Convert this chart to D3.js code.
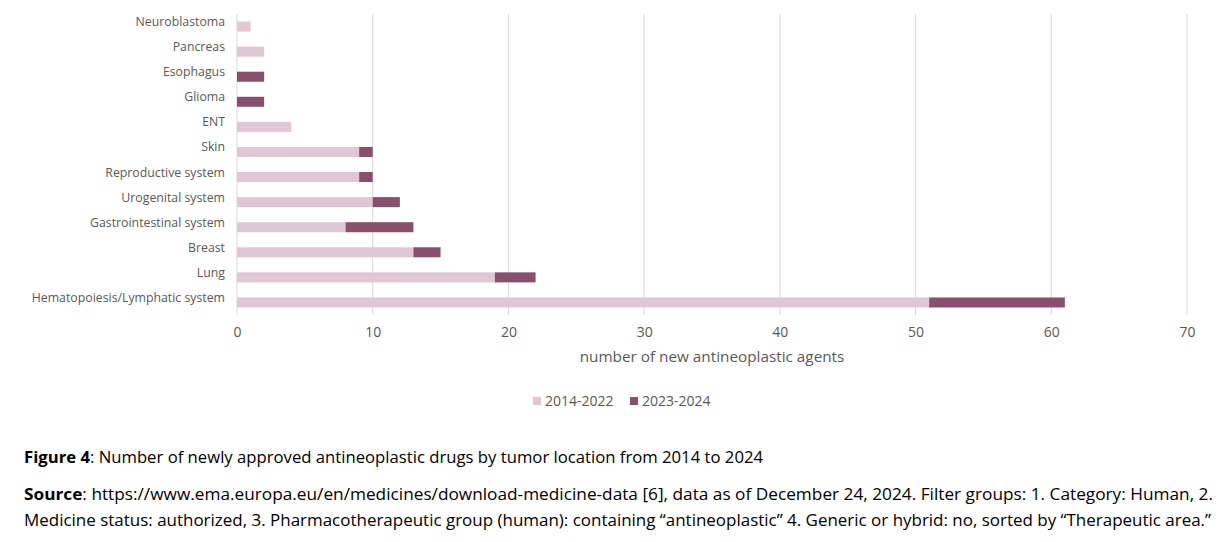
<!DOCTYPE html>
<html><head><meta charset="utf-8">
<script src="https://cdn.jsdelivr.net/npm/d3@7/dist/d3.min.js"></script>
<style>
body{margin:0;background:#fff;}
svg text{font-family:"Open Sans","Noto Sans",sans-serif;}
</style></head>
<body><svg id="c" width="1228" height="542"></svg>
<script>
const categories = ["Neuroblastoma","Pancreas","Esophagus","Glioma","ENT","Skin","Reproductive system","Urogenital system","Gastrointestinal system","Breast","Lung","Hematopoiesis/Lymphatic system"];
const series2014_2022 = [1,2,0,0,4,9,9,10,8,13,19,51];
const series2023_2024 = [0,0,2,2,0,1,1,2,5,2,3,10];
const seriesNames = ["2014-2022","2023-2024"];
const xTicks = [0,10,20,30,40,50,60,70];
const colors = ["#e1c6d4","#88506c"];

const svg = d3.select("#c");
const x = d3.scaleLinear().domain([0,70]).range([237,1187]);
const y = d3.scaleBand().domain(categories).range([14,315]).paddingInner(0.6).paddingOuter(0.3);

// gridlines
svg.append("g").selectAll("line").data(xTicks).join("line")
  .attr("x1",d=>x(d)).attr("x2",d=>x(d)).attr("y1",14).attr("y2",315)
  .attr("stroke","#d9d9d9").attr("stroke-width",1);

const stackData = categories.map((c,i)=>({cat:c, a:series2014_2022[i], b:series2023_2024[i]}));
const stack = d3.stack().keys(["a","b"])(stackData);
svg.append("g").selectAll("g").data(stack).join("g").attr("fill",(d,i)=>colors[i])
  .selectAll("rect").data(d=>d).join("rect")
  .attr("x",d=>x(d[0])).attr("width",d=>x(d[1])-x(d[0]))
  .attr("y",d=>y(d.data.cat)).attr("height",y.bandwidth());

// category labels
svg.append("g").selectAll("text").data(categories).join("text")
  .attr("x",225).attr("y",d=>y(d)+y.bandwidth()/2-0.5)
  .attr("text-anchor","end").attr("font-size",12.3).attr("fill","#595959").text(d=>d);

// x axis
const xAxis = d3.axisBottom(x).tickValues(xTicks).tickSize(0).tickPadding(0);
const ax = svg.append("g").attr("transform","translate(0,327)").call(xAxis);
ax.select(".domain").remove();
ax.selectAll("text").attr("font-size",14).attr("fill","#595959").attr("dy","0.71em")
  .style("font-family","'Open Sans','Noto Sans',sans-serif");

svg.append("text").attr("x",712).attr("y",362).attr("text-anchor","middle")
  .attr("font-size",15.3).attr("fill","#595959").text("number of new antineoplastic agents");

// legend
const lg = svg.append("g");
const lx = [533,630];
seriesNames.forEach((n,i)=>{
  lg.append("rect").attr("x",lx[i]).attr("y",397).attr("width",8).attr("height",8).attr("fill",colors[i]);
  lg.append("text").attr("x",lx[i]+12).attr("y",406).attr("font-size",14).attr("fill","#595959").text(n);
});

// caption
const cap = svg.append("text").attr("x",24).attr("y",463).attr("font-size",15.5).attr("fill","#000")
  .attr("textLength",739).attr("lengthAdjust","spacingAndGlyphs");
cap.append("tspan").attr("font-weight","bold").text("Figure 4");
cap.append("tspan").text(": Number of newly approved antineoplastic drugs by tumor location from 2014 to 2024");

const s1 = svg.append("text").attr("x",24).attr("y",500).attr("font-size",15.5).attr("fill","#000")
  .attr("textLength",1189).attr("lengthAdjust","spacingAndGlyphs");
s1.append("tspan").attr("font-weight","bold").text("Source");
s1.append("tspan").text(": https://www.ema.europa.eu/en/medicines/download-medicine-data [6], data as of December 24, 2024. Filter groups: 1. Category: Human, 2.");

svg.append("text").attr("x",24).attr("y",526).attr("font-size",15.5).attr("fill","#000")
  .attr("textLength",1187).attr("lengthAdjust","spacingAndGlyphs")
  .text("Medicine status: authorized, 3. Pharmacotherapeutic group (human): containing \u201Cantineoplastic\u201D 4. Generic or hybrid: no, sorted by \u201CTherapeutic area.\u201D");
</script></body></html>
